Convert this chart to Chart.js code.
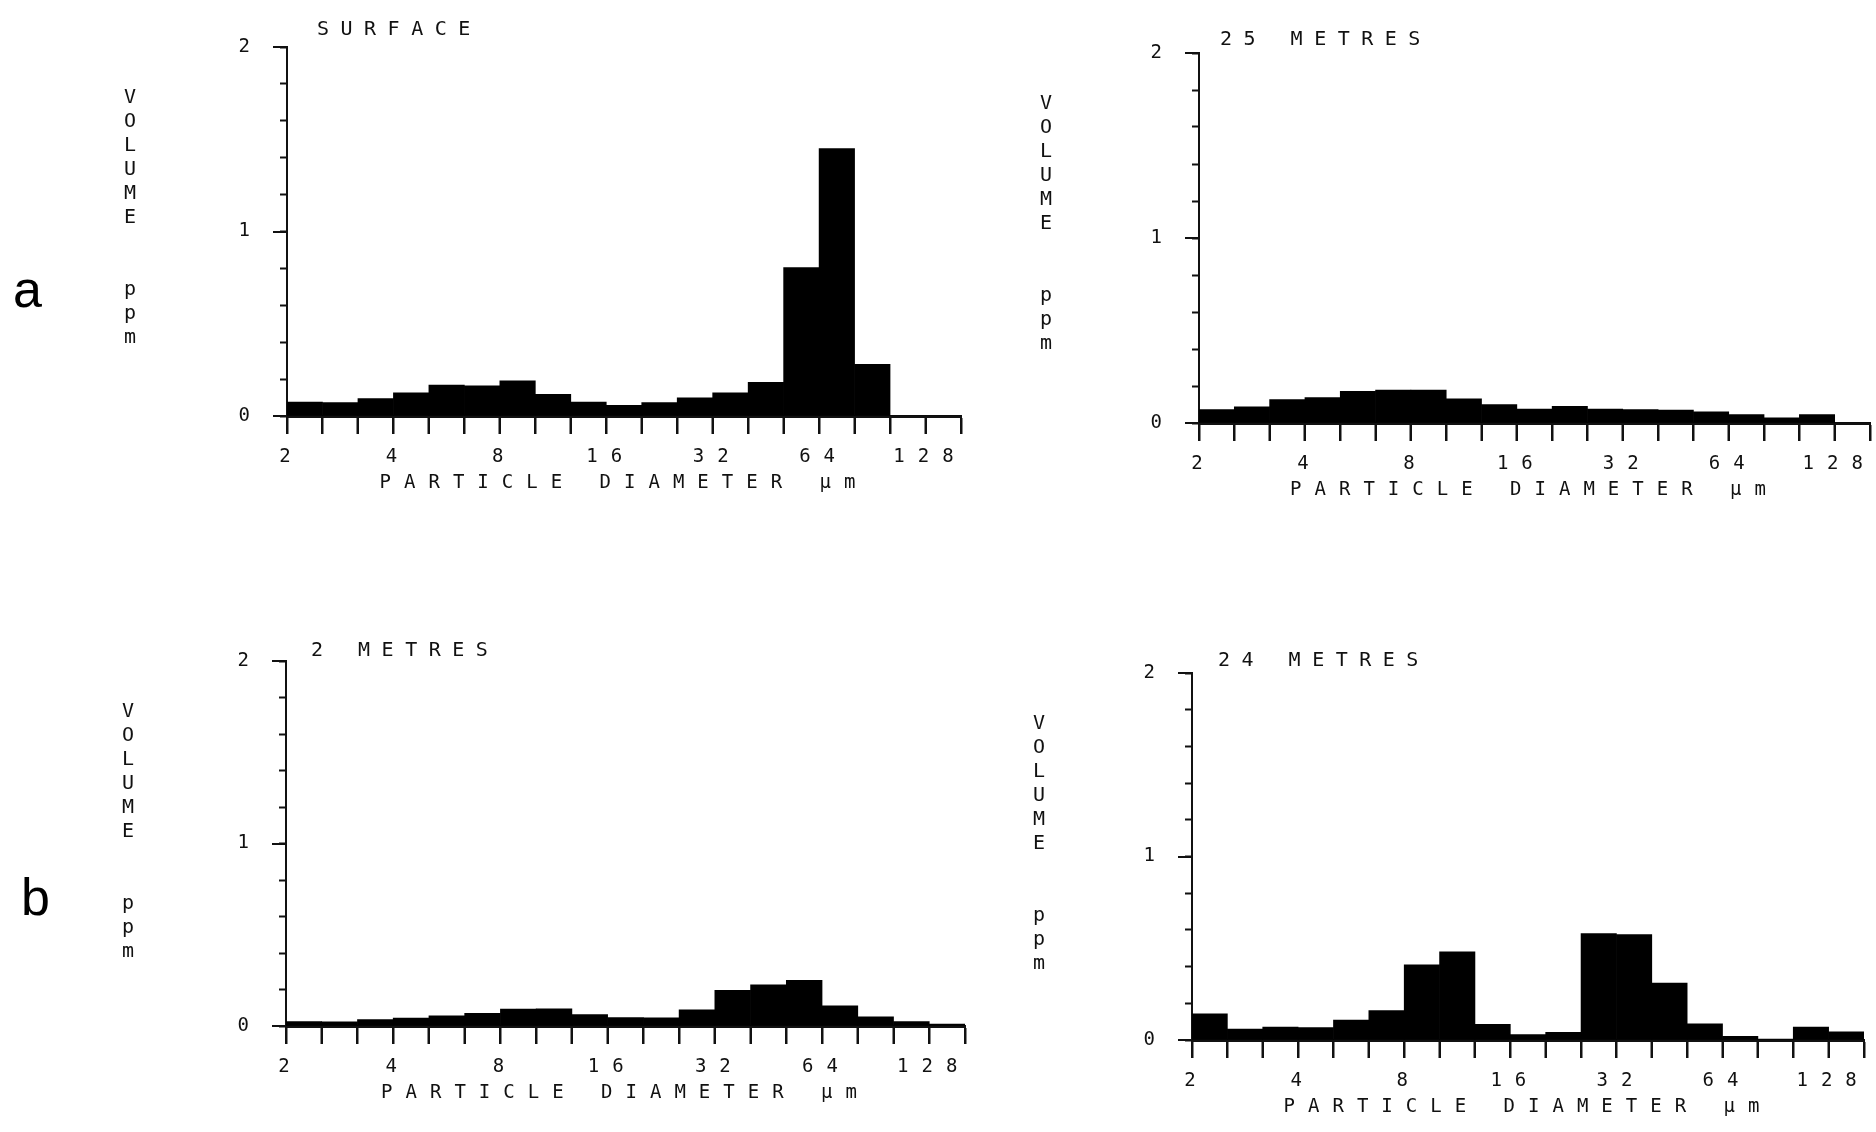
<!DOCTYPE html>
<html>
<head>
<meta charset="utf-8">
<script src="https://cdn.jsdelivr.net/npm/chart.js@4"></script>
<style>
  html, body { margin: 0; padding: 0; background: #fff; }
  #page { position: relative; width: 1876px; height: 1132px; background: #fff; overflow: hidden; }
  #page canvas { position: absolute; }
</style>
</head>
<body>
<div id="page">
  <canvas id="c1"></canvas>
  <canvas id="c2"></canvas>
  <canvas id="c3"></canvas>
  <canvas id="c4"></canvas>
</div>
<script>
// ---- data (particle size bins, 3 per octave, lower edge in µm) ----
const binNames = ['2','2.5','3.2','4','5','6.3','8','10','13','16','20','25','32','40','50','64','80','101','128'];
const xTickLabels = ['2','','','4','','','8','','','16','','','32','','','64','','','128'];
const yTickValues = [0, 1, 2];

// volume (ppm) per bin
const surface  = [0.075, 0.073, 0.095, 0.126, 0.167, 0.164, 0.190, 0.117, 0.076, 0.058, 0.073, 0.099, 0.125, 0.183, 0.805, 1.450, 0.280, 0, 0];
const metres25 = [0.073, 0.087, 0.127, 0.137, 0.171, 0.178, 0.178, 0.131, 0.100, 0.075, 0.090, 0.075, 0.073, 0.070, 0.060, 0.046, 0.028, 0.045, 0];
const metres2  = [0.024, 0.023, 0.035, 0.044, 0.056, 0.070, 0.093, 0.094, 0.062, 0.046, 0.045, 0.088, 0.195, 0.225, 0.250, 0.110, 0.050, 0.024, 0.010];
const metres24 = [0.142, 0.060, 0.070, 0.068, 0.108, 0.160, 0.410, 0.480, 0.085, 0.030, 0.042, 0.580, 0.575, 0.310, 0.088, 0.020, 0.005, 0.070, 0.045];

const panelTitles = ['SURFACE', '25 METRES', '2 METRES', '24 METRES'];
const yAxisLetters = ['V','O','L','U','M','E','','','p','p','m'];
const xAxisTitle = 'PARTICLE DIAMETER µm';
const rowLetters = ['a', 'b'];

// ---- layout (pixel geometry only) ----
const Y_AXIS_W = 60, X_AXIS_H = 90, SPACING = 13, X_TICK_LEN = 18;
const panels = [
  { id: 'c1', values: surface,  title: panelTitles[0], canvas: {x: 0,    y: 0,   w: 980, h: 520}, box: {L: 287,  R: 961,  T: 47,  B: 416},  titleDx: 30, titleDy: -17, labelDx: -157, letter: rowLetters[0], letterX: 13, letterY: 307 },
  { id: 'c2', values: metres25, title: panelTitles[1], canvas: {x: 1000, y: 0,   w: 876, h: 520}, box: {L: 1199, R: 1870, T: 53,  B: 423},  titleDx: 21, titleDy: -13, labelDx: -153 },
  { id: 'c3', values: metres2,  title: panelTitles[2], canvas: {x: 0,    y: 600, w: 980, h: 532}, box: {L: 286,  R: 965,  T: 661, B: 1026}, titleDx: 25, titleDy: -10, labelDx: -158, letter: rowLetters[1], letterX: 21, letterY: 915 },
  { id: 'c4', values: metres24, title: panelTitles[3], canvas: {x: 1000, y: 600, w: 876, h: 532}, box: {L: 1192, R: 1864, T: 673, B: 1040}, titleDx: 26, titleDy: -12, labelDx: -153 }
];

const MONO = "'DejaVu Sans Mono', monospace";
Chart.defaults.font.family = MONO;
Chart.defaults.color = '#111';

const spacingPlugin = {
  id: 'spacing',
  beforeUpdate(chart) { chart.ctx.letterSpacing = SPACING + 'px'; },
  beforeLayout(chart) { chart.ctx.letterSpacing = SPACING + 'px'; },
  beforeDraw(chart) { chart.ctx.letterSpacing = SPACING + 'px'; }
};

const decoPlugin = {
  id: 'deco',
  afterDraw(chart, args, o) {
    const ctx = chart.ctx, ca = chart.chartArea, y = chart.scales.y, x = chart.scales.x;
    ctx.save();
    ctx.fillStyle = '#111';
    ctx.strokeStyle = '#111';
    // panel title
    ctx.font = '20px ' + MONO;
    ctx.letterSpacing = '11.5px';
    ctx.textAlign = 'left';
    ctx.textBaseline = 'middle';
    ctx.fillText(o.title, ca.left + o.titleDx, ca.top + o.titleDy);
    // vertical stacked y-axis label
    ctx.letterSpacing = '0px';
    ctx.textAlign = 'center';
    yAxisLetters.forEach((ch, i) => {
      if (ch) ctx.fillText(ch, ca.left + o.labelDx, ca.top + 51 + 24 * i);
    });
    // longer major ticks on y axis
    ctx.lineWidth = 2;
    yTickValues.forEach(v => {
      const py = Math.round(y.getPixelForValue(v));
      ctx.beginPath(); ctx.moveTo(ca.left - 14, py); ctx.lineTo(ca.left, py); ctx.stroke();
    });
    // tick marks at every bin edge on the x axis
    const n = x.ticks.length;
    const half = (x.getPixelForTick(1) - x.getPixelForTick(0)) / 2;
    for (let i = 0; i <= n; i++) {
      const px = Math.round(i < n ? x.getPixelForTick(i) - half : x.getPixelForTick(n - 1) + half);
      ctx.beginPath(); ctx.moveTo(px, ca.bottom); ctx.lineTo(px, ca.bottom + X_TICK_LEN); ctx.stroke();
    }
    // row letter
    if (o.letter) {
      ctx.font = "52px 'Liberation Sans', Arial, sans-serif";
      ctx.textAlign = 'left';
      ctx.textBaseline = 'alphabetic';
      ctx.fillStyle = '#000';
      ctx.fillText(o.letter, o.letterX, o.letterY);
    }
    ctx.restore();
  }
};

panels.forEach(p => {
  const cv = document.getElementById(p.id);
  cv.width = p.canvas.w; cv.height = p.canvas.h;
  cv.style.left = p.canvas.x + 'px'; cv.style.top = p.canvas.y + 'px';
  cv.style.width = p.canvas.w + 'px'; cv.style.height = p.canvas.h + 'px';
  const b = p.box, c = p.canvas;
  const binW = (b.R - b.L) / binNames.length;
  new Chart(cv, {
    type: 'bar',
    data: {
      labels: binNames,
      datasets: [{
        data: p.values,
        backgroundColor: '#000',
        borderWidth: 0,
        barPercentage: 1,
        categoryPercentage: 1
      }]
    },
    plugins: [spacingPlugin, decoPlugin],
    options: {
      responsive: false,
      animation: false,
      events: [],
      layout: {
        padding: {
          left: b.L - c.x - Y_AXIS_W,
          right: c.x + c.w - b.R,
          top: b.T - c.y,
          bottom: c.y + c.h - b.B - X_AXIS_H
        }
      },
      plugins: {
        legend: { display: false },
        tooltip: { enabled: false },
        title: { display: false },
        deco: {
          title: p.title, titleDx: p.titleDx, titleDy: p.titleDy, labelDx: p.labelDx,
          letter: p.letter, letterX: p.letterX, letterY: (p.letterY || 0) - c.y
        }
      },
      scales: {
        x: {
          type: 'category',
          offset: true,
          grid: { offset: true, drawOnChartArea: false, drawTicks: true, tickLength: X_TICK_LEN, tickWidth: 2, tickColor: '#111', color: '#111' },
          border: { display: true, color: '#111', width: 3 },
          ticks: {
            autoSkip: false, maxRotation: 0, minRotation: 0,
            padding: 12,
            labelOffset: -binW / 2 + SPACING / 2 - 2,
            font: { size: 19 },
            color: '#111',
            callback: (v, i) => xTickLabels[i]
          },
          title: { display: true, text: xAxisTitle, font: { size: 19 }, color: '#111', padding: { top: 0, bottom: 12 } },
          afterFit: s => { s.height = X_AXIS_H; s.paddingLeft = 0; s.paddingRight = 0; }
        },
        y: {
          min: 0, max: 2,
          grid: { drawOnChartArea: false, drawTicks: true, tickLength: 7, tickWidth: 2, tickColor: '#111', color: '#111' },
          border: { display: true, color: '#111', width: 2 },
          ticks: {
            stepSize: 0.2,
            padding: 17,
            font: { size: 19 },
            color: '#111',
            callback: v => (yTickValues.some(t => Math.abs(t - v) < 1e-6) ? String(Math.round(v)) : '')
          },
          afterFit: s => { s.width = Y_AXIS_W; s.paddingTop = 0; s.paddingBottom = 0; }
        }
      }
    }
  });
});
</script>
</body>
</html>
